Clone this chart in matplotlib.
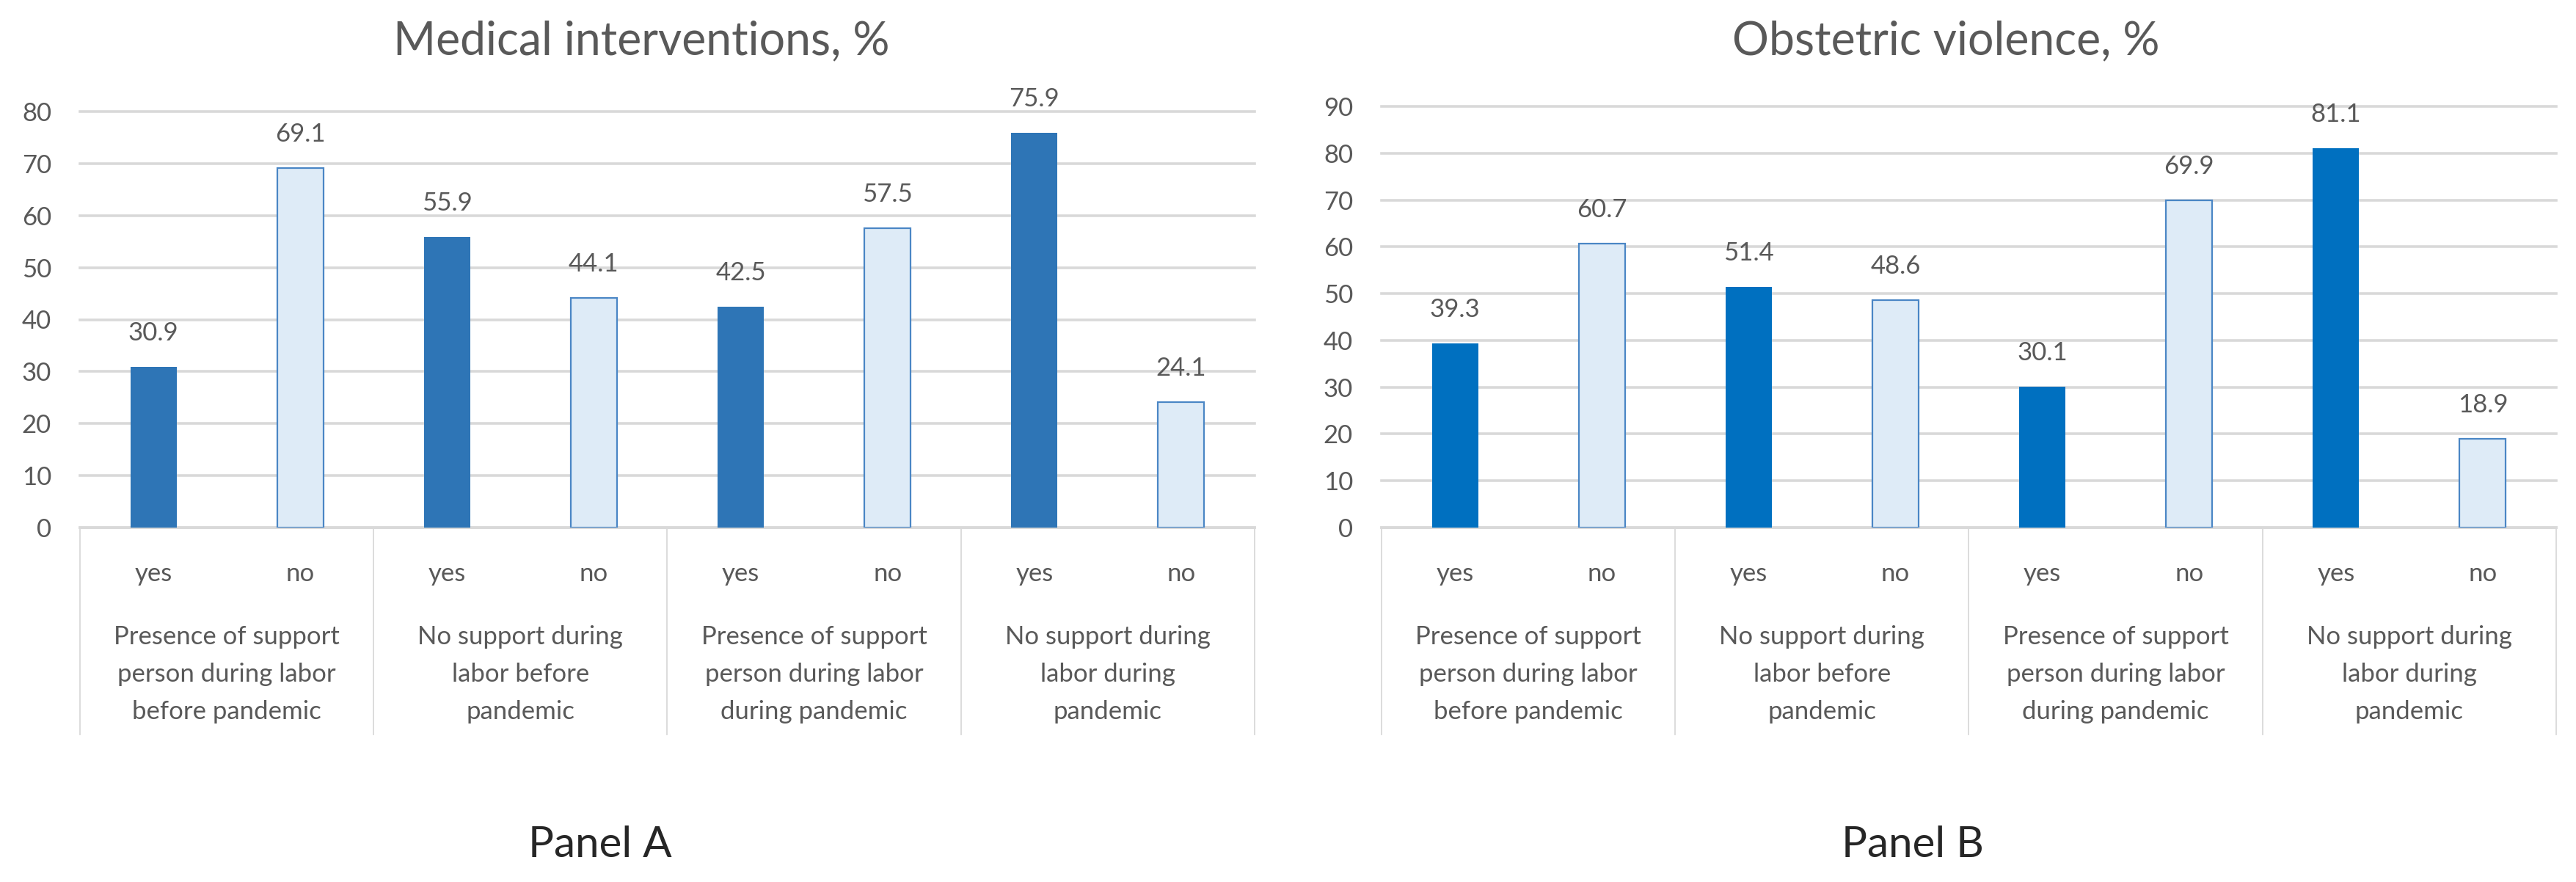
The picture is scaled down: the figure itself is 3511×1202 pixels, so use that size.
import matplotlib
matplotlib.use("Agg")
import matplotlib.pyplot as plt
from matplotlib.transforms import blended_transform_factory

# ---------------- data ----------------
groups = ["Presence of support\nperson during labor\nbefore pandemic",
          "No support during\nlabor before\npandemic",
          "Presence of support\nperson during labor\nduring pandemic",
          "No support during\nlabor during\npandemic"]
answers = ["yes", "no"]
med_yes = [30.9, 55.9, 42.5, 75.9]
med_no = [69.1, 44.1, 57.5, 24.1]
obs_yes = [39.3, 51.4, 30.1, 81.1]
obs_no = [60.7, 48.6, 69.9, 18.9]
titles = ["Medical interventions, %", "Obstetric violence, %"]
panels = ["Panel A", "Panel B"]

# ---------------- style ----------------
FONT = ["Lato", "DejaVu Sans"]
plt.rcParams['font.family'] = FONT
GRAY = "#595959"
GRID = "#D9D9D9"
LIGHT = "#DEEBF7"
EDGE = "#4A86C5"

W, H = 3512, 1202
fig = plt.figure(figsize=(W / 100, H / 100), dpi=100)
fig.patch.set_facecolor("white")


def fy(py):
    return 1 - py / H


def draw(left_px, right_px, top_px, zero_px, yes, no, dark, ymax, title, title_x, panel, panel_x):
    ax = fig.add_axes([left_px / W, fy(zero_px), (right_px - left_px) / W, (zero_px - top_px) / H])

    def axy(py):
        return (zero_px - py) / (zero_px - top_px)

    n = len(yes)
    xy = [2 * i for i in range(n)]
    xn = [2 * i + 1 for i in range(n)]
    bw = 0.315
    ax.bar(xy, yes, width=bw, color=dark, zorder=3)
    ax.bar(xn, no, width=bw, color=LIGHT, edgecolor=EDGE, linewidth=1.6, zorder=3)
    for x, v in list(zip(xy, yes)) + list(zip(xn, no)):
        ax.annotate(f"{v:.1f}", (x, v), xytext=(0, 46), textcoords="offset pixels",
                    ha="center", va="center", fontsize=25, color=GRAY, zorder=4)

    ax.set_xlim(-0.5, 2 * n - 0.5)
    ax.set_ylim(0, ymax)
    ax.set_yticks(range(0, ymax + 1, 10))
    ax.tick_params(axis="y", length=0, pad=28, labelsize=25, labelcolor=GRAY)
    ax.set_xticks([])
    ax.yaxis.grid(True, color=GRID, linewidth=2.6)
    for gl in ax.get_ygridlines():
        gl.set_clip_on(False)
    ax.set_axisbelow(True)
    for s in ["left", "right", "top"]:
        ax.spines[s].set_visible(False)
    ax.spines["bottom"].set_color(GRID)
    ax.spines["bottom"].set_linewidth(2.6)

    tr = blended_transform_factory(ax.transData, ax.transAxes)
    # yes/no labels
    for i in range(n):
        for j, a in enumerate(answers):
            ax.text(2 * i + j, axy(792), a, transform=tr, ha="center", va="baseline",
                    fontsize=25, color=GRAY)
        ax.text(2 * i + 0.5, axy(919), groups[i], transform=tr, ha="center", va="center",
                multialignment="center", fontsize=25, color=GRAY, linespacing=1.72)
    # separators
    for k in range(n + 1):
        ax.plot([2 * k - 0.5, 2 * k - 0.5], [0, axy(1001)], transform=tr, color=GRID,
                linewidth=1.3, clip_on=False)

    fig.text(title_x / W, fy(56), title, ha="center", va="center", fontsize=45, color=GRAY)
    fig.text(panel_x / W, fy(1151), panel, ha="center", va="center", fontsize=42, color="#262626")
    return ax


draw(109, 1710, 152, 719, med_yes, med_no, "#2E75B6", 80, titles[0], 874, panels[0], 818)
draw(1883, 3484, 145, 719, obs_yes, obs_no, "#0070C0", 90, titles[1], 2652, panels[1], 2607)

fig.savefig("out.png", dpi=100, facecolor="white")
